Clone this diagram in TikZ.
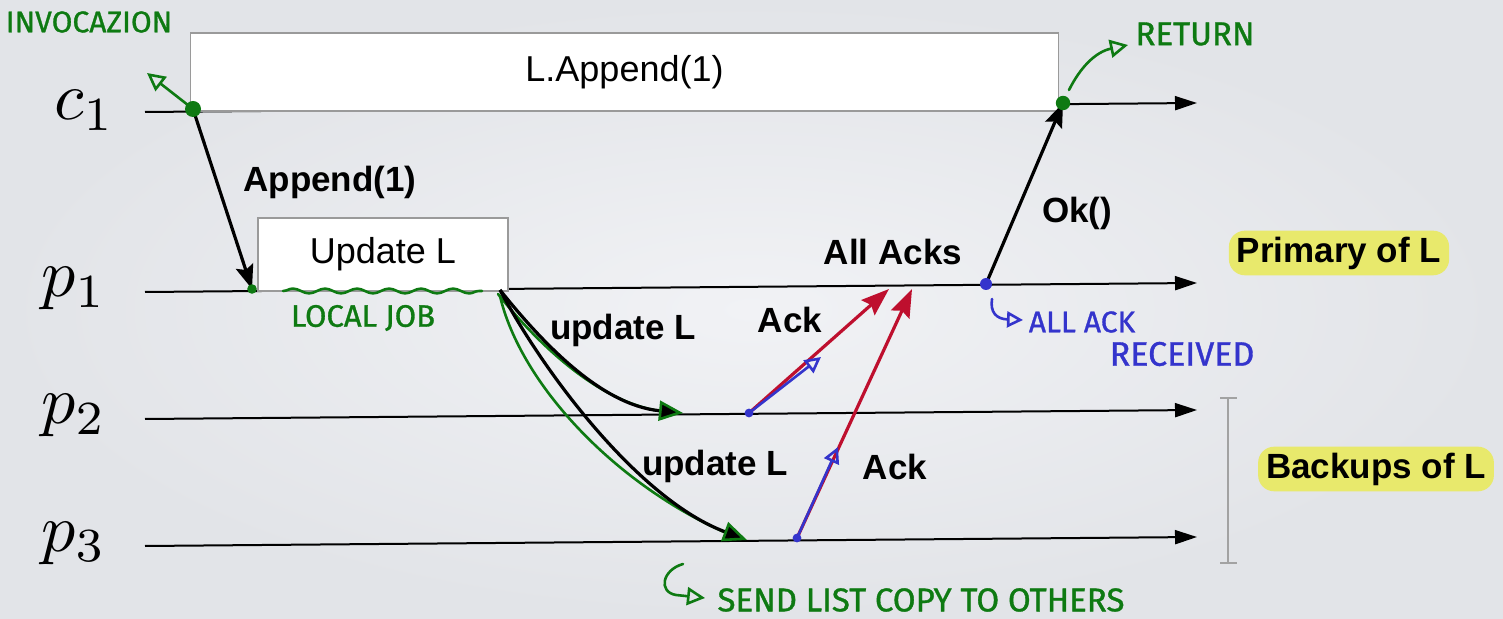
\documentclass[tikz,border=0pt]{standalone}
\usepackage{fontspec}
\setsansfont{Liberation Sans}
\newfontfamily\hand[FakeBold=1]{Fira Sans}
\usetikzlibrary{arrows.meta,decorations.pathmorphing,calc}
\definecolor{bgin}{HTML}{F1F2F5}
\definecolor{bgout}{HTML}{E2E4E8}
\definecolor{boxgray}{HTML}{9A9A9A}
\definecolor{ackred}{HTML}{BE0F2E}
\definecolor{hgreen}{HTML}{0E7A12}
\definecolor{hblue}{HTML}{3434CC}
\definecolor{hly}{HTML}{E8E96C}
\definecolor{brgray}{HTML}{A2A2A2}
\newcommand{\bigmath}[1]{\scalebox{3.4}{$#1$}}
\begin{document}
\begin{tikzpicture}[x=0.5pt,y=-0.5pt,
  tl/.style={line width=1pt,-{Triangle[length=11pt,width=7pt]}},
  msg/.style={line width=1.6pt,-{Stealth[length=12pt,width=9pt,inset=2pt]}},
  ackarr/.style={ackred,line width=1.6pt,-{Stealth[length=14pt,width=10pt,inset=2pt]}},
  abox/.style={draw=boxgray,line width=0.8pt,fill=white,inner sep=0pt,font=\sffamily\fontsize{18}{21}\selectfont},
  lbl/.style={font=\sffamily\bfseries\fontsize{17.5}{20}\selectfont,inner sep=0pt},
  hl/.style={lbl,fill=hly,rounded corners=8pt,inner xsep=4pt,inner ysep=3pt},
  proc/.style={inner sep=0pt,anchor=base west},
  hw/.style={font=\hand\fontsize{#1}{#1}\selectfont,inner sep=0pt},
  gpen/.style={hgreen,line width=1.3pt,line cap=round,line join=round},
  bpen/.style={hblue,line width=1.3pt,line cap=round,line join=round},
  opentip/.style={-{Triangle[open,length=9pt,width=9pt]}},
  opentipb/.style={-{Triangle[open,length=8pt,width=8pt]}},
  updarr/.style={line width=1.6pt,-{Triangle[length=12pt,width=10pt,fill=black,color=hgreen,line width=1.3pt]}}
]
% background
\shade[inner color=bgin,outer color=bgout] (0,0) rectangle (1503,619);
\useasboundingbox (0,0) rectangle (1503,619);

% timelines
\coordinate (c1a) at (145,112); \coordinate (c1b) at (1197,103);
\coordinate (p1a) at (145,292); \coordinate (p1b) at (1197,283);
\coordinate (p2a) at (145,419); \coordinate (p2b) at (1197,410);
\coordinate (p3a) at (145,546); \coordinate (p3b) at (1197,537);
\draw[tl] (c1a) -- (c1b);
\draw[tl] (p1a) -- (p1b);
\draw[tl] (p2a) -- (p2b);
\draw[tl] (p3a) -- (p3b);

% process labels
\node[proc] (lc1) at (54,120) {\bigmath{c_{1}}};
\node[proc] (lp1) at (41,297) {\bigmath{p_{1}}};
\node[proc] (lp2) at (41,424) {\bigmath{p_{2}}};
\node[proc] (lp3) at (41,551) {\bigmath{p_{3}}};

% boxes
\node[abox,minimum width=434pt,minimum height=39pt] (append) at (624.5,72) {L.Append(1)};
\node[abox,minimum width=125pt,minimum height=36.5pt] (upd) at (383,254.5) {Update L};

% event points
\coordinate (inv) at (193,109);
\coordinate (ret) at (1063,103);
\coordinate (p1in) at (252,289);
\coordinate (p1out) at (500,290);
\coordinate (allack) at (986,284);
\coordinate (p2recv) at (683,413);
\coordinate (p2send) at (749,413);
\coordinate (p3recv) at (747,540);
\coordinate (p3send) at (797,538);
\coordinate (t1) at (889,289);
\coordinate (t2) at (912,289);

% messages
\draw[msg] (inv) -- (p1in);
\draw[msg] (allack) -- (ret);
\draw[gpen] (498,294) .. controls (537,343) and (598,402) .. (660,411);
\draw[gpen] (500,296) .. controls (520,382) and (612,482) .. (724,532);
\draw[updarr] (p1out) .. controls (540,340) and (600,405) .. (p2recv);
\draw[updarr] (p1out) .. controls (545,375) and (640,500) .. (p3recv);
\draw[ackarr] (p2send) -- (t1);
\draw[ackarr] (p3send) -- (t2);

% message labels
\node[lbl] (lapp) at (330,182) {Append(1)};
\node[lbl] (lupd1) at (623,330) {update L};
\node[lbl] (lupd2) at (715,466) {update L};
\node[lbl] (lack1) at (790,320) {Ack};
\node[lbl] (lack2) at (895,467) {Ack};
\node[lbl] (lall) at (893,252) {All Acks};
\node[lbl] (lok) at (1077,213) {Ok()};

% role labels
\node[hl] (prim) at (1339,253) {Primary of L};
\node[hl] (back) at (1376,469) {Backups of L};
\draw[brgray,line width=1pt] (1228,398) -- (1228,563);
\draw[brgray,line width=1pt] (1220,398) -- (1237,398);
\draw[brgray,line width=1pt] (1220,563) -- (1237,563);

% green annotations
\fill[hgreen] (inv) circle (4pt);
\fill[hgreen] (ret) circle (3.6pt);
\fill[hgreen] (p1in) circle (2.4pt);
\coordinate (invtip) at (147,73);
\draw[gpen,opentip] (inv) -- (invtip);
\node[hw=15,text=hgreen] (tinv) at (89,22) {INVOCAZION};
\coordinate (rettip) at (1128,45);
\draw[gpen,opentip] (1069,90) .. controls (1080,68) and (1095,52) .. (rettip);
\node[hw=16.5,text=hgreen] (tret) at (1195,34) {RETURN};
\draw[gpen,decorate,decoration={snake,amplitude=1.2pt,segment length=16pt}] (283,291) -- (482,291);
\node[hw=15.5,text=hgreen] (tjob) at (363,318) {LOCAL JOB};
\coordinate (sendtip) at (705,598);
\draw[gpen,opentip] (683,564) .. controls (662,570) and (658,592) .. (676,595) -- (sendtip);
\node[hw=16.5,text=hgreen] (tsend) at (921,600) {SEND LIST COPY TO OTHERS};

% blue annotations
\fill[hblue] (allack) circle (3pt);
\fill[hblue] (p2send) circle (2.2pt);
\fill[hblue] (p3send) circle (2.2pt);
\coordinate (b1tip) at (821,357);
\coordinate (b2tip) at (838,447);
\draw[bpen,opentipb] (p2send) -- (b1tip);
\draw[bpen,opentipb] (p3send) -- (b2tip);
\coordinate (hooktip) at (1023,320);
\draw[bpen,opentipb] (992,299) .. controls (990,312) and (996,319) .. (hooktip);
\node[hw=15,text=hblue] (tall) at (1082,322) {ALL ACK};
\node[hw=17,text=hblue] (trec) at (1182,354) {RECEIVED};
\end{tikzpicture}
\end{document}
